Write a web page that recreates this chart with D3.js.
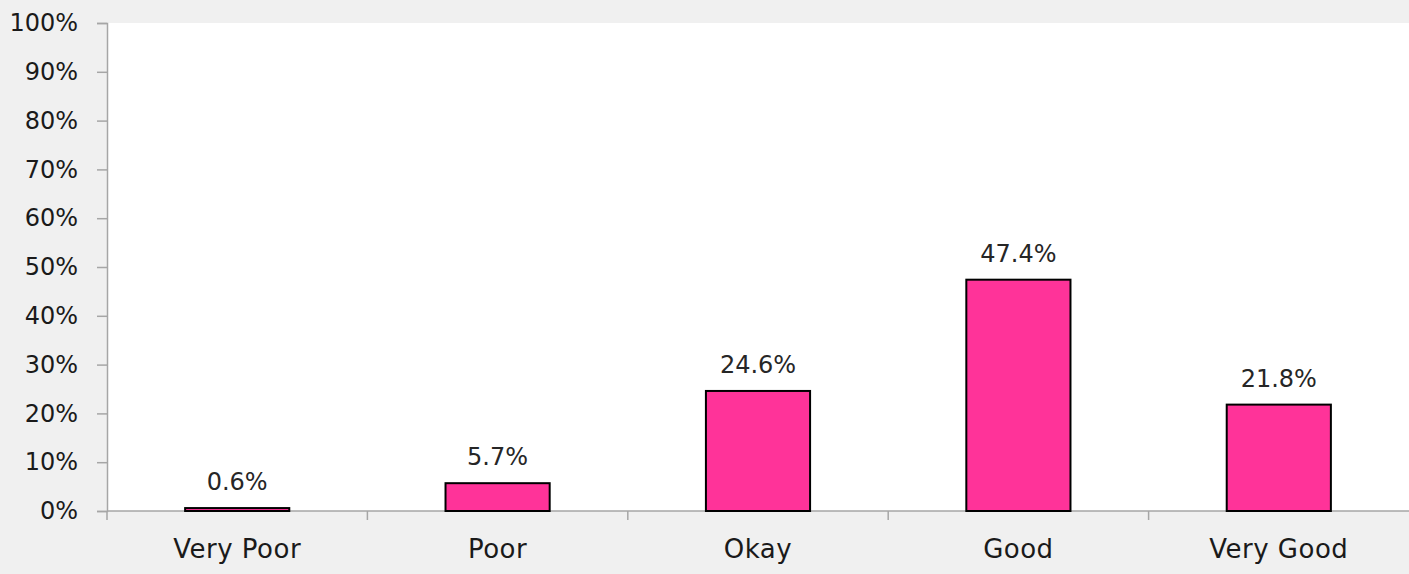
<!DOCTYPE html>
<html><head><meta charset="utf-8">
<script src="https://cdn.jsdelivr.net/npm/d3@7"></script>
<style>
html,body{margin:0;padding:0;background:#f0f0f0;}
svg{display:block;}
text{font-family:"DejaVu Sans",sans-serif;}
</style></head>
<body>
<script>
const categories = ["Very Poor","Poor","Okay","Good","Very Good"];
const values = [0.006, 0.057, 0.246, 0.474, 0.218];
const valueLabels = ["0.6%","5.7%","24.6%","47.4%","21.8%"];
const yTicks = [0,0.1,0.2,0.3,0.4,0.5,0.6,0.7,0.8,0.9,1.0];

const W = 1409, H = 574;
const m = {left:107, right:0, top:23, bottom:63};
const svg = d3.select("body").append("svg").attr("width",W).attr("height",H);
svg.append("rect").attr("width",W).attr("height",H).attr("fill","#f0f0f0");

const x = d3.scaleBand().domain(categories).range([m.left, W-m.right]).paddingInner(0.6).paddingOuter(0.3);
const xb = d3.scaleBand().domain(categories).range([m.left, W-m.right]);
const y = d3.scaleLinear().domain([0,1]).range([H-m.bottom, m.top]);

svg.append("rect").attr("x",m.left).attr("y",m.top).attr("width",W-m.right-m.left).attr("height",y(0)-m.top).attr("fill","#ffffff");

// y axis
const yAxis = d3.axisLeft(y).tickValues(yTicks).tickFormat(d3.format(".0%")).tickSize(10).tickPadding(19);
const gy = svg.append("g").attr("transform",`translate(${m.left},0)`).call(yAxis);
gy.select(".domain").attr("stroke","#a6a6a6").attr("stroke-width",1.5);
gy.selectAll(".tick line").attr("stroke","#a6a6a6").attr("stroke-width",1.5);
gy.selectAll(".tick text").attr("font-size",24).attr("fill","#1a1a1a").attr("font-family","DejaVu Sans, sans-serif");

// x axis
const gx = svg.append("g").attr("transform",`translate(0,${y(0)})`);
gx.append("line").attr("x1",m.left).attr("x2",W).attr("y1",0).attr("y2",0).attr("stroke","#a6a6a6").attr("stroke-width",1.5);
const boundaries = categories.map(c=>xb(c));
gx.selectAll("line.tk").data(boundaries).enter().append("line").attr("class","tk")
  .attr("x1",d=>d).attr("x2",d=>d).attr("y1",0).attr("y2",9).attr("stroke","#a6a6a6").attr("stroke-width",1.5);
gx.selectAll("text").data(categories).enter().append("text")
  .attr("x",d=>xb(d)+xb.bandwidth()/2).attr("y",47).attr("text-anchor","middle")
  .attr("font-size",26).attr("letter-spacing",0.5).attr("fill","#1a1a1a").text(d=>d);

// bars
svg.selectAll("rect.bar").data(categories).enter().append("rect").attr("class","bar")
  .attr("x",d=>x(d)).attr("width",x.bandwidth())
  .attr("y",(d,i)=>y(values[i])).attr("height",(d,i)=>y(0)-y(values[i]))
  .attr("fill","#ff3399").attr("stroke","#000").attr("stroke-width",2);

svg.selectAll("text.val").data(categories).enter().append("text").attr("class","val")
  .attr("x",d=>x(d)+x.bandwidth()/2).attr("y",(d,i)=>y(values[i])-18)
  .attr("text-anchor","middle").attr("font-size",24).attr("fill","#262626")
  .text((d,i)=>valueLabels[i]);
</script>
</body></html>
